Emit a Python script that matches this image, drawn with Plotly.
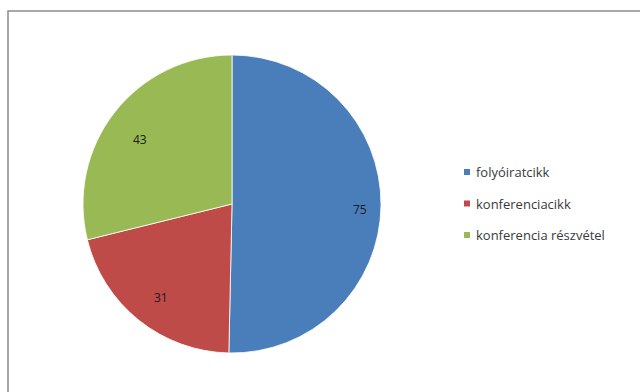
import math
import plotly.graph_objects as go

# Publication counts
categories = ["folyóiratcikk", "konferenciacikk", "konferencia részvétel"]
values = [75, 31, 43]
colors = ["#4A7EBB", "#BE4B48", "#98B954"]

W, H = 640, 392
# pie placement in pixels
cx, cy, R = 232, 204, 149

fig = go.Figure(go.Pie(
    labels=categories,
    values=values,
    sort=False,
    direction="clockwise",
    rotation=0,
    marker=dict(colors=colors, line=dict(color="white", width=0.8)),
    textinfo="none",
    hoverinfo="label+value",
    showlegend=False,
    domain=dict(x=[(cx - R) / W, (cx + R) / W], y=[1 - (cy + R) / H, 1 - (cy - R) / H]),
))

# value labels placed inside each slice, towards the rim
total = sum(values)
start = 0.0
annotations = []
for v in values:
    mid = (start + v / 2) / total * 2 * math.pi
    start += v
    px = cx + 0.86 * R * math.sin(mid)
    py = cy - 0.86 * R * math.cos(mid) + 4
    annotations.append(dict(
        x=px / W, y=1 - py / H, xref="paper", yref="paper",
        text=str(v), showarrow=False,
        font=dict(family="Open Sans", size=12, color="#1a1a1a"),
    ))

# legend drawn at the right
shapes = []
leg_x, leg_y0, leg_dy = 467, 172, 31.5
for i, (name, col) in enumerate(zip(categories, colors)):
    yy = leg_y0 + i * leg_dy
    shapes.append(dict(type="rect", xref="paper", yref="paper",
                       x0=(leg_x - 3) / W, x1=(leg_x + 3) / W,
                       y0=1 - (yy + 3) / H, y1=1 - (yy - 3) / H,
                       fillcolor=col, line=dict(width=0)))
    annotations.append(dict(
        x=(leg_x + 7) / W, y=1 - yy / H, xref="paper", yref="paper",
        xanchor="left", yanchor="middle", text=name, showarrow=False,
        font=dict(family="Open Sans", size=13, color="#3a3a3a"),
    ))

# chart frame
shapes.append(dict(type="rect", xref="paper", yref="paper",
                   x0=8 / W, x1=1.05, y0=-0.05, y1=1 - 11 / H,
                   line=dict(color="#8c8c8c", width=1.5), fillcolor="rgba(0,0,0,0)"))

fig.update_layout(
    width=W, height=H,
    margin=dict(l=0, r=0, t=0, b=0),
    paper_bgcolor="white",
    plot_bgcolor="white",
    annotations=annotations,
    shapes=shapes,
)

fig.write_html("out.html")
